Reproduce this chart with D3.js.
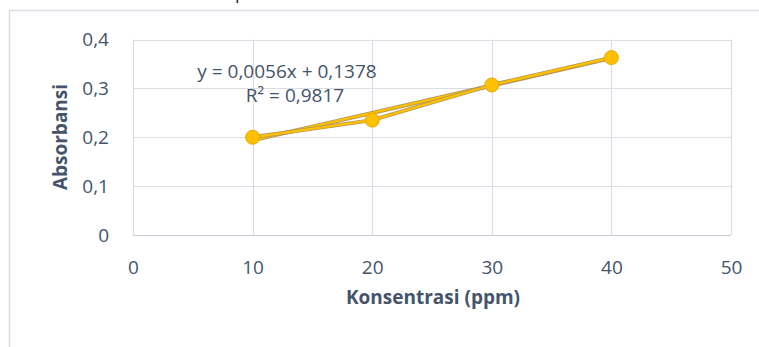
<!DOCTYPE html>
<html><head><meta charset="utf-8">
<script src="https://cdn.jsdelivr.net/npm/d3@7"></script>
<style>body{margin:0;background:#fff;} svg{display:block;font-family:"Open Sans","Liberation Sans",sans-serif;}</style>
</head><body>
<svg id="c" width="759" height="347"></svg>
<script>
const concentrations = [10, 20, 30, 40];
const absorbances = [0.200, 0.235, 0.307, 0.363];
const xTicks = [0, 10, 20, 30, 40, 50];
const yTicks = [0, 0.1, 0.2, 0.3, 0.4];
const trendSlope = 0.0056, trendIntercept = 0.1378;
const equationText = "y = 0,0056x + 0,1378";
const r2Text = "R\u00b2 = 0,9817";
const xTitle = "Konsentrasi (ppm)";
const yTitle = "Absorbansi";

const svg = d3.select("#c");
const txt = "#44546A", grid = "#D9DEE6";
const fmt = v => (v === 0 ? "0" : d3.format(".1f")(v).replace(".", ","));

// cut-off title descender and chart frame
svg.append("text").attr("x", 235).attr("y", -1).attr("font-size", 18).attr("fill", "#222").text("p");
svg.append("rect").attr("x", 9.5).attr("y", 10.5).attr("width", 770).attr("height", 400)
  .attr("fill", "none").attr("stroke", "#D9DEE6").attr("stroke-width", 1.5);

const x = d3.scaleLinear().domain([0, 50]).range([133, 731]);
const y = d3.scaleLinear().domain([0, 0.4]).range([235, 39.5]);

// gridlines
svg.append("g").selectAll("line").data(xTicks).join("line")
  .attr("x1", d => Math.round(x(d)) + 0.5).attr("x2", d => Math.round(x(d)) + 0.5)
  .attr("y1", y(0.4)).attr("y2", y(0)).attr("stroke", grid).attr("stroke-width", 1.2);
svg.append("g").selectAll("line").data(yTicks).join("line")
  .attr("x1", x(0)).attr("x2", x(50))
  .attr("y1", d => Math.round(y(d)) + 0.5).attr("y2", d => Math.round(y(d)) + 0.5)
  .attr("stroke", d => d === 0 ? "#C4CBD6" : grid).attr("stroke-width", 1.2);

// axes labels via d3 axes
const xAxis = svg.append("g").attr("transform", `translate(0,${y(0)})`)
  .call(d3.axisBottom(x).tickValues(xTicks).tickSize(0).tickPadding(26).tickFormat(d => d));
const yAxis = svg.append("g").attr("transform", `translate(${x(0)},0)`)
  .call(d3.axisLeft(y).tickValues(yTicks).tickSize(0).tickPadding(24).tickFormat(fmt));
[xAxis, yAxis].forEach(a => {
  a.select(".domain").remove();
  a.selectAll("text").attr("fill", txt).attr("font-size", 19).attr("font-family", "Open Sans, sans-serif");
});

// axis titles
svg.append("text").attr("x", 433).attr("y", 304).attr("text-anchor", "middle")
  .attr("font-size", 19).attr("font-weight", "bold").attr("fill", txt).text(xTitle);
svg.append("text").attr("transform", "translate(67,137) rotate(-90)").attr("text-anchor", "middle")
  .attr("font-size", 19).attr("font-weight", "bold").attr("fill", txt).text(yTitle);

// trendline + data line
const data = concentrations.map((c, i) => ({x: c, y: absorbances[i]}));
const trend = [10, 40].map(c => ({x: c, y: trendSlope * c + trendIntercept}));
const line = d3.line().x(d => x(d.x)).y(d => y(d.y));
[trend, data].forEach(arr => {
  svg.append("path").attr("d", line(arr)).attr("fill", "none").attr("stroke", "#B09A5C").attr("stroke-width", 4);
  svg.append("path").attr("d", line(arr)).attr("fill", "none").attr("stroke", "#FFC000").attr("stroke-width", 2.2);
});
svg.append("g").selectAll("circle").data(data).join("circle")
  .attr("cx", d => x(d.x)).attr("cy", d => y(d.y)).attr("r", 7)
  .attr("fill", "#FFC000").attr("stroke", "#E8A900").attr("stroke-width", 1);

// equation labels
svg.append("text").attr("x", 287).attr("y", 78).attr("text-anchor", "middle")
  .attr("font-size", 19).attr("fill", txt).text(equationText);
svg.append("text").attr("x", 295).attr("y", 102).attr("text-anchor", "middle")
  .attr("font-size", 19).attr("fill", txt).text(r2Text);
</script>
</body></html>
